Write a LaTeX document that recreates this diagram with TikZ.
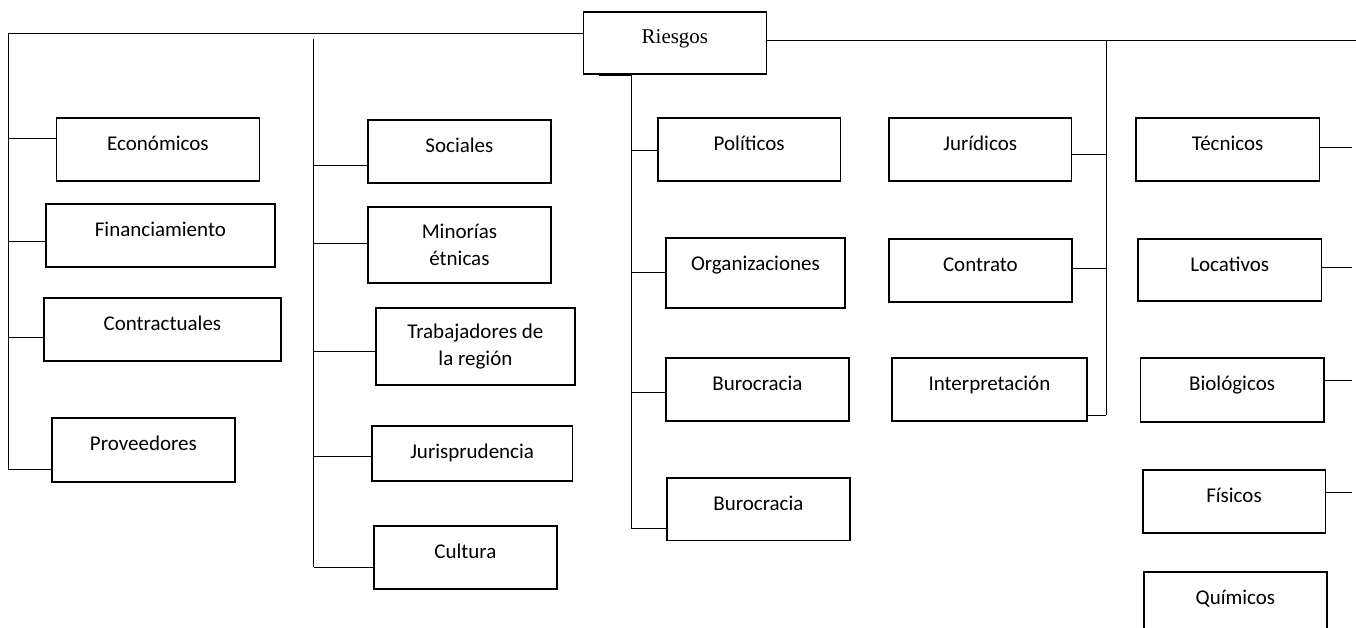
\documentclass[tikz,border=0pt]{standalone}
\usepackage{fontspec}
\setmainfont{Carlito}
\newfontfamily\timesfont{Liberation Serif}
\begin{document}
\begin{tikzpicture}[x=1pt, y=-1pt,
  font=\fontsize{21}{27.6}\selectfont,
  caja/.style={draw, line width=1.8pt, inner xsep=0pt, inner ysep=0pt, anchor=north west},
  una/.style 2 args={caja, minimum width=#1, text height=32.5pt, text depth=#2},
  dos/.style 2 args={caja, align=center, minimum width=#1, minimum height=#2},
  linea/.style={line width=0.9pt}]
  \useasboundingbox (0,0) rectangle (1356,628);
  % Root
  \node[caja, font=\timesfont\fontsize{21}{25}\selectfont, minimum width=183pt,
    text height=31.5pt, text depth=30.5pt] (riesgos) at (582.5,11) {Riesgos};
  % Boxes
  \node[una={203pt}{30.5pt}] (economicos) at (55.5,117) {Económicos};
  \node[una={229pt}{30.5pt}] (financiamiento) at (45,203) {Financiamiento};
  \node[una={237pt}{30.5pt}] (contractuales) at (43,297) {Contractuales};
  \node[una={183pt}{31.5pt}] (proveedores) at (51,417) {Proveedores};
  \node[una={183pt}{30.5pt}] (sociales) at (367,119) {Sociales};
  \node[dos={183pt}{76pt}] (minorias) at (367,206) {Minorías\\étnicas};
  \node[dos={199pt}{77pt}] (trabajadores) at (375,307) {Trabajadores de\\la región};
  \node[una={200.5pt}{22.5pt}] (jurisprudencia) at (371,425) {Jurisprudencia};
  \node[una={183pt}{30.5pt}] (cultura) at (373,525) {Cultura};
  \node[una={182.5pt}{30.5pt}] (politicos) at (657,117) {Políticos};
  \node[una={179pt}{37.5pt}] (organizaciones) at (665,237) {Organizaciones};
  \node[una={183pt}{30.5pt}] (burocraciaA) at (665,357) {Burocracia};
  \node[una={183pt}{30pt}] (burocraciaB) at (666,477) {Burocracia};
  \node[una={182.6pt}{30.5pt}] (juridicos) at (888,117) {Jurídicos};
  \node[una={183pt}{30.5pt}] (contrato) at (888,238) {Contrato};
  \node[una={195pt}{30.5pt}] (interpretacion) at (891,357) {Interpretación};
  \node[una={183.5pt}{30.5pt}] (tecnicos) at (1135,117) {Técnicos};
  \node[una={183.6pt}{29.5pt}] (locativos) at (1137,238) {Locativos};
  \node[una={183.2pt}{31.5pt}] (biologicos) at (1139.6,357) {Biológicos};
  \node[una={182.8pt}{30.5pt}] (fisicos) at (1141.7,469) {Físicos};
  \node[una={183pt}{30.5pt}] (quimicos) at (1143,571) {Químicos};
  % Trunks
  \coordinate (troncoA) at (8,33);
  \coordinate (troncoB) at (313.5,39);
  \coordinate (talon) at (599,75);
  \coordinate (troncoC) at (631,75);
  \coordinate (troncoD) at (1106,40);
  \coordinate (finD) at (1356,40);
  \coordinate (bordeE) at (1352,0);
  % Branches on the left side of the boxes
  \foreach \n/\d/\t in {economicos/21/troncoA, financiamiento/38/troncoA,
      contractuales/40/troncoA, proveedores/52/troncoA,
      sociales/46/troncoB, minorias/37/troncoB, trabajadores/44/troncoB,
      jurisprudencia/31.5/troncoB, cultura/42/troncoB,
      politicos/33/troncoC, organizaciones/35/troncoC,
      burocraciaA/35/troncoC, burocraciaB/51/troncoC} {
    \path ([yshift=-\d pt]\n.north west) coordinate (\n-r);
    \draw[linea] (\n-r) -- (\n-r -| \t);
  }
  % Branches on the right side of the boxes
  \foreach \n/\d/\t in {juridicos/37/troncoD, contrato/30/troncoD,
      interpretacion/58/troncoD, tecnicos/30/bordeE, locativos/29/bordeE,
      biologicos/23/bordeE, fisicos/23/bordeE} {
    \path ([yshift=-\d pt]\n.north east) coordinate (\n-r);
    \draw[linea] (\n-r) -- (\n-r -| \t);
  }
  \draw[linea] (riesgos.west |- troncoA) -- (troncoA) -- (troncoA |- proveedores-r);
  \draw[linea] (troncoB) -- (troncoB |- cultura-r);
  \draw[linea] (talon) -- (troncoC) -- (troncoC |- burocraciaB-r);
  \draw[linea] (riesgos.east |- troncoD) -- (finD);
  \draw[linea] (troncoD) -- (troncoD |- interpretacion-r);
\end{tikzpicture}
\end{document}
